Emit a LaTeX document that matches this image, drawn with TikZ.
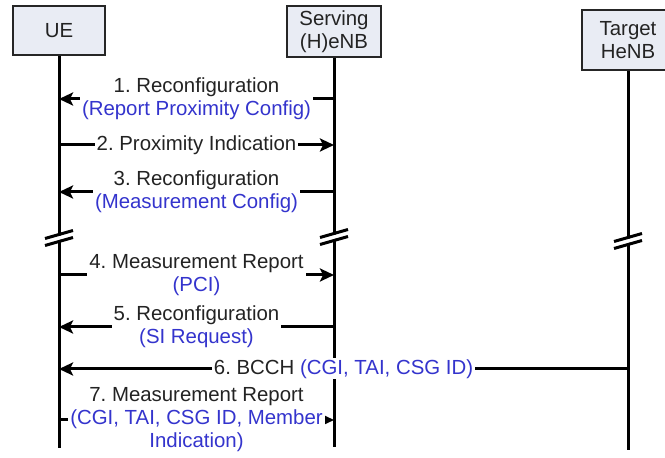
\documentclass[tikz,border=0pt]{standalone}
\usepackage{fontspec}
\setmainfont{Liberation Sans}
\usetikzlibrary{arrows.meta}
\frenchspacing

\definecolor{boxfill}{RGB}{233,236,244}
\definecolor{parblue}{RGB}{52,52,205}
\definecolor{txtgray}{RGB}{35,35,35}
\newcommand{\prm}[1]{\textcolor{parblue}{#1}}

\begin{document}
\begin{tikzpicture}[
x=0.5pt, y=-0.5pt,
every node/.style={
    font=\fontsize{10.2}{11.5}\selectfont,
    text=txtgray
},
entity/.style={
    draw=black!85,
    line width=1pt,
    fill=boxfill,
    align=center,
    inner sep=0pt
},
lifeline/.style={line width=1.5pt},
msg/.style={line width=1.5pt, -{Stealth[length=7pt,width=6.5pt,inset=1.5pt]}},
lbl/.style={fill=white, align=center, inner xsep=1pt, inner ysep=0.5pt}
]
\clip (0,0) rectangle (665,458);

%---------------- Entities ----------------
\node[entity, minimum width=46pt, minimum height=24.5pt] (ue) at (59,30.5) {UE};
\node[entity, minimum width=47pt, minimum height=25.5pt] (senb) at (334,31.5) {Serving\\(H)eNB};
\node[entity, minimum width=46pt, minimum height=30pt] (tenb) at (628,40) {Target\\HeNB};

\coordinate (ueEnd) at (59,448);
\coordinate (senbEnd) at (334,447);
\coordinate (tenbEnd) at (628,450);

\draw[lifeline] (ue) -- (ueEnd);
\draw[lifeline] (senb) -- (senbEnd);
\draw[lifeline] (tenb) -- (tenbEnd);

%---------------- Breaks ----------------
\coordinate (brkU) at (59,238);
\coordinate (brkS) at (334,237);
\coordinate (brkT) at (628,241);
\foreach \c in {brkU,brkS,brkT}{
  \draw[white, line width=2pt] ([shift={(-15,4)}]\c) -- ([shift={(15,-4)}]\c);
  \draw[line width=1.5pt] ([shift={(-14,0.5)}]\c) -- ([shift={(14,-7.5)}]\c);
  \draw[line width=1.5pt] ([shift={(-14,7.5)}]\c) -- ([shift={(14,-0.5)}]\c);
}

%---------------- Messages ----------------
\coordinate (u1) at (59,99);  \coordinate (s1) at (334,99);
\coordinate (u2) at (59,145); \coordinate (s2) at (334,145);
\coordinate (u3) at (59,192); \coordinate (s3) at (334,192);
\coordinate (u4) at (59,275); \coordinate (s4) at (334,275);
\coordinate (u5) at (59,327); \coordinate (s5) at (334,327);
\coordinate (u6) at (59,369); \coordinate (t6) at (628,369);
\coordinate (u7) at (59,420); \coordinate (s7) at (334,420);

\draw[msg] (s1) -- node[lbl] {1. Reconfiguration\\\prm{(Report Proximity Config)}} (u1);
\draw[msg] (u2) -- node[lbl] {2. Proximity Indication} (s2);
\draw[msg] (s3) -- node[lbl] {3. Reconfiguration\\\prm{(Measurement Config)}} (u3);
\draw[msg] (u4) -- node[lbl] {4. Measurement Report\\\prm{(PCI)}} (s4);
\draw[msg] (s5) -- node[lbl] {5. Reconfiguration\\\prm{(SI Request)}} (u5);
\draw[msg] (t6) -- node[lbl] {6. BCCH \prm{(CGI, TAI, CSG ID)}} (u6);
\draw[msg] (u7) -- node[lbl] {7. Measurement Report\\\prm{(CGI, TAI, CSG ID, Member}\\\prm{Indication)}} (s7);

\end{tikzpicture}
\end{document}
